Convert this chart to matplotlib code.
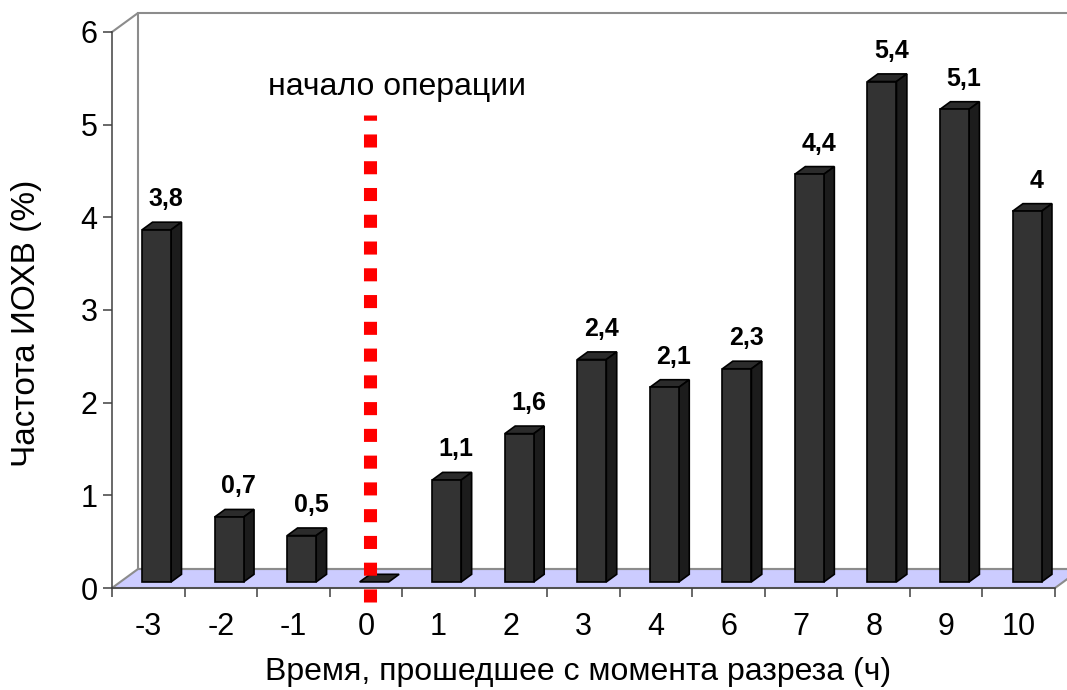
import numpy as np
import matplotlib.pyplot as plt
from matplotlib.patches import Polygon

plt.rcParams['font.family'] = ['Liberation Sans', 'DejaVu Sans']

# Данные: время от разреза (ч) и частота ИОХВ (%)
categories = ['-3', '-2', '-1', '0', '1', '2', '3', '4', '6', '7', '8', '9', '10']
values = [3.8, 0.7, 0.5, 0, 1.1, 1.6, 2.4, 2.1, 2.3, 4.4, 5.4, 5.1, 4.0]
y_ticks = [0, 1, 2, 3, 4, 5, 6]
op_start = '0'

W, H = 1067, 690
fig = plt.figure(figsize=(W / 100, H / 100), dpi=100)
ax = fig.add_axes([112 / W, 1 - 588 / H, 943 / W, 556 / H])
n = len(categories)
ymax = y_ticks[-1]
ax.set_xlim(0, n)
ax.set_ylim(0, ymax)

# глубина псевдо-3D (в единицах данных)
px_x = 943 / n
px_y = 556 / ymax
dx, dy = 26 / px_x, 19 / px_y
wall = '#8c8c8c'

# пол и задняя стенка
ax.add_patch(Polygon([(0, 0), (n, 0), (n + dx, dy), (dx, dy)], closed=True,
                     facecolor='#ccccff', edgecolor=wall, lw=1.5, clip_on=False, zorder=1))
ax.plot([0, dx, dx, n + dx], [ymax, ymax + dy, dy, dy], color=wall, lw=1.5,
        clip_on=False, zorder=1)
ax.plot([dx, n + dx], [ymax + dy, ymax + dy], color=wall, lw=1.5, clip_on=False, zorder=1)

# столбики
w = 0.4
b_dx, b_dy = 0.4 * dx, 0.4 * dy
base = 0.32 * dy
for i, v in enumerate(values):
    x0 = i + 0.5 - w / 2 + 0.32 * dx
    top = base + v
    ax.add_patch(Polygon([(x0, top), (x0 + w, top), (x0 + w + b_dx, top + b_dy), (x0 + b_dx, top + b_dy)],
                         closed=True, facecolor='#2b2b2b', edgecolor='black', lw=1.2, zorder=3))
    if v > 0:
        ax.add_patch(Polygon([(x0 + w, base), (x0 + w + b_dx, base + b_dy), (x0 + w + b_dx, top + b_dy), (x0 + w, top)],
                             closed=True, facecolor='#1c1c1c', edgecolor='black', lw=1.2, zorder=3))
        ax.add_patch(Polygon([(x0, base), (x0 + w, base), (x0 + w, top), (x0, top)],
                             closed=True, facecolor='#333333', edgecolor='black', lw=1.2, zorder=3))
        lbl = ('%g' % v).replace('.', ',')
        ax.text(x0 + w / 2 + 0.9 * b_dx, top + b_dy + 11 / px_y, lbl, ha='center', va='bottom',
                fontsize=18, fontweight='bold', zorder=4)

# начало операции
k = categories.index(op_start)
ax.plot([k + 0.55, k + 0.55], [-14 / px_y, 5.1], color='red', lw=9.4,
        linestyle=(0, (1, 1.05)), dash_capstyle='butt', clip_on=False, zorder=5)
ax.text(k + 0.93, 5.41, 'начало операции', ha='center', va='center', fontsize=23)

# оси
for s in ['top', 'right']:
    ax.spines[s].set_visible(False)
for s in ['left', 'bottom']:
    ax.spines[s].set_color('#404040')
    ax.spines[s].set_linewidth(1.1)
    ax.spines[s].set_zorder(2)
ax.set_yticks(y_ticks)
ax.tick_params(axis='y', length=6.5, width=1.1, color='#404040', pad=4, labelsize=22)
ax.set_xticks(np.arange(n) + 0.5)
ax.set_xticklabels(categories)
ax.set_xticks(np.arange(n + 1), minor=True)
ax.tick_params(axis='x', which='major', length=0, pad=17, labelsize=22)
ax.tick_params(axis='x', which='minor', length=6.5, width=1.1, color='#404040')

fig.text(27 / W, 1 - 323 / H, 'Частота ИОХВ (%)', rotation=90, ha='center', va='center', fontsize=24)
fig.text(578 / W, 1 - 672 / H, 'Время, прошедшее с момента разреза (ч)', ha='center', va='center',
         fontsize=23)

fig.savefig('out.png', dpi=100)
